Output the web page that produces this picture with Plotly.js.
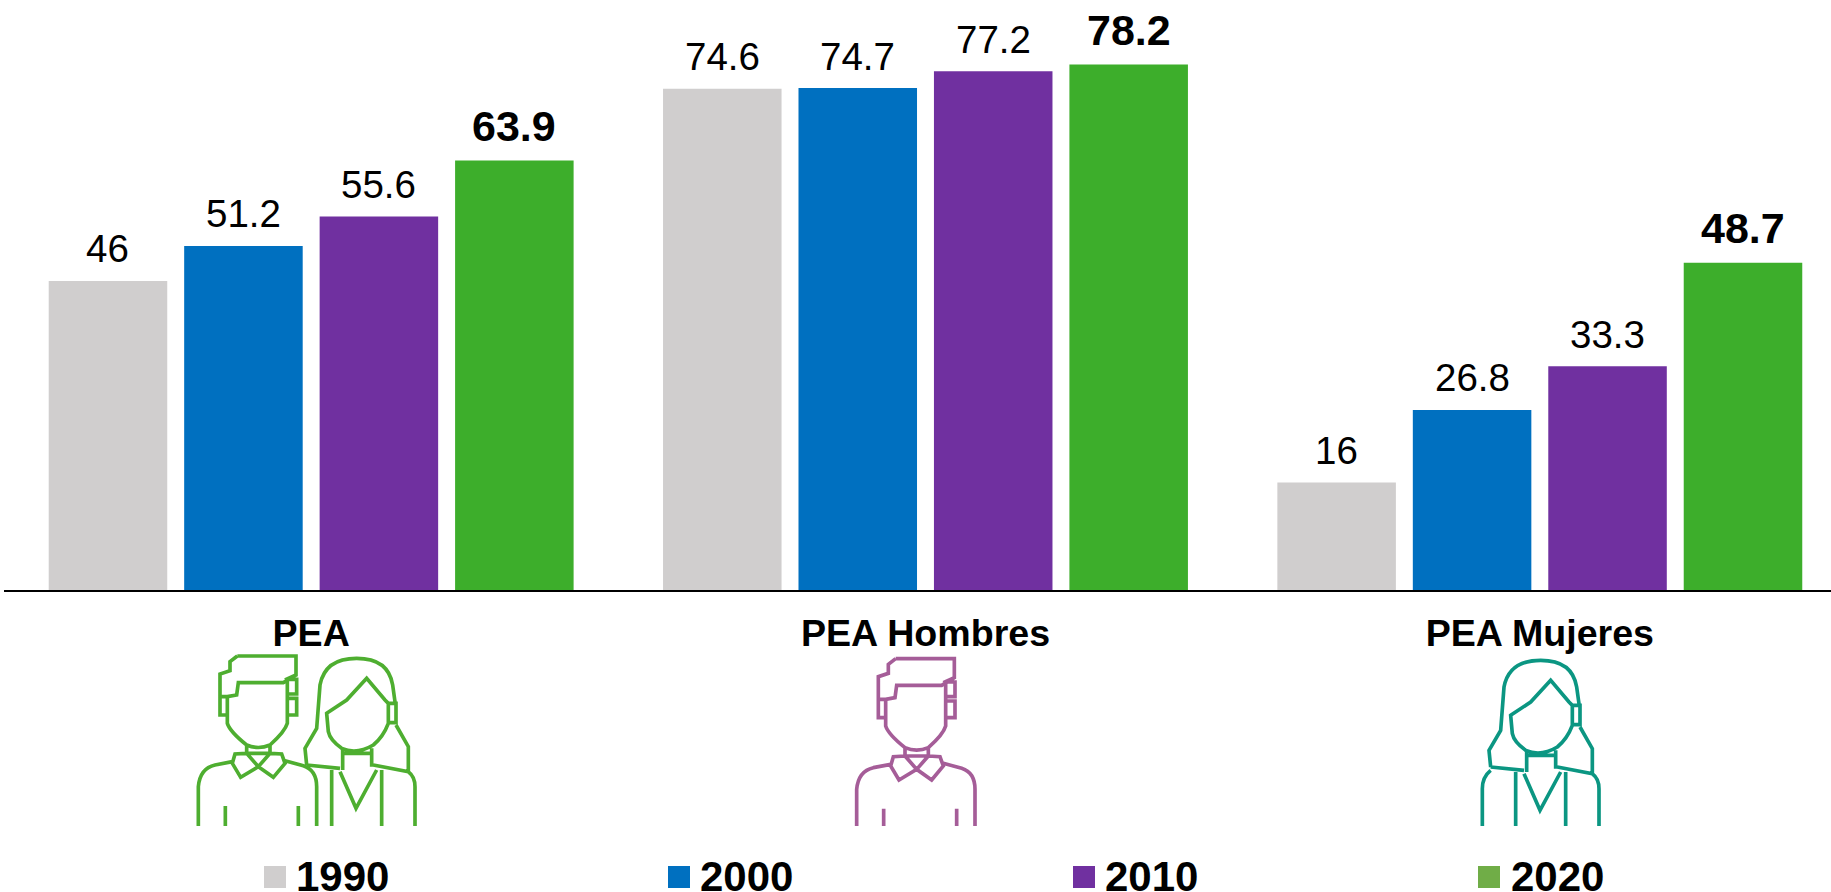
<!DOCTYPE html>
<html>
<head>
<meta charset="utf-8">
<script src="https://cdn.plot.ly/plotly-3.0.1.min.js"></script>
<style>html,body{margin:0;padding:0;background:#fff;overflow:hidden}#chart{width:1831px;height:892px}</style>
</head>
<body>
<div id="chart"></div>
<script>
const categories = ["PEA", "PEA Hombres", "PEA Mujeres"];
const years = ["1990", "2000", "2010", "2020"];
const values1990 = [46, 74.6, 16];
const values2000 = [51.2, 74.7, 26.8];
const values2010 = [55.6, 77.2, 33.3];
const values2020 = [63.9, 78.2, 48.7];
const barColors = ["#D0CECE", "#0070C0", "#7030A0", "#3DAE2B"];
const legendColors = ["#D0CECE", "#0070C0", "#7030A0", "#70AD47"];
const FONT = "Liberation Sans, Arial, sans-serif";

const W = 1831, H = 892, ML = 4, PH = 590;
const BARGAP = 0.118;
const X_RANGE = [-0.5, 2.474];
const xp = px => (px - ML) / (W - ML);
const yp = py => (PH - py) / PH;

const series = [values1990, values2000, values2010, values2020];
const traces = series.map((vals, i) => ({
  type: "bar",
  name: years[i],
  x: categories,
  y: vals,
  marker: {color: barColors[i]},
  showlegend: false
}));

// value labels: anchored on each bar's category and value
const barPitch = (W - ML) / (X_RANGE[1] - X_RANGE[0]) * (1 - BARGAP) / series.length;
const valueLabels = series.flatMap((vals, i) => vals.map((v, c) => ({
  text: i === 3 ? "<b>" + v + "</b>" : String(v),
  xref: "x", yref: "y", x: categories[c], y: v,
  xshift: (i - (series.length - 1) / 2) * barPitch,
  yshift: i === 3 ? 35 : 32,
  xanchor: "center", yanchor: "middle", showarrow: false, borderpad: 0,
  font: {family: FONT, size: i === 3 ? 43 : 38.5, color: "#000"}
})));

// pictograms, in the coordinates of a 900x678 box shown at 300x226 px
function manPath(dx, dy) {
  const pts = [
    "M262 168H438V225L405 240", "M262 168L240 185V212L210 222V290H232L260 285L265 248H400L438 225",
    "M210 290V345H232", "M412 238H440V282H412", "M412 295H440V345H412",
    "M232 290V370Q240 395 290 435Q325 450 360 435Q405 395 412 370V238",
    "M290 435V460H360V435",
    "M290 460L255 462L247 490L272 532L325 500Z", "M360 460L395 462L405 490L370 532L325 500Z",
    "M247 485L195 495Q150 505 145 560V700", "M405 482L460 497Q500 510 500 560V700",
    "M226 618V700", "M445 618V700"
  ];
  return `<g transform="translate(${dx} ${dy})"><path d="${pts.join(" ")}"/></g>`;
}
function womanPath(dx, dy, withLeftArm) {
  const pts = [
    "M470 495L465 445L500 385L510 255Q525 175 620 175Q715 175 728 255L735 305",
    "M715 310H738V368H715", "M738 375L775 440V515",
    "M530 340L590 300L650 235L705 300L715 310V370Q700 410 670 435Q620 465 575 445Q540 420 535 395Z",
    "M578 450V510", "M665 445V500", "M578 460H665",
    "M570 515L618 625L680 510",
    "M470 495L570 505", "M670 495L775 515Q795 530 795 560V700",
    "M545 510V700", "M695 510V700"
  ];
  if (withLeftArm) pts.push("M470 505Q445 525 445 560V700");
  return `<g transform="translate(${dx} ${dy})"><path d="${pts.join(" ")}"/></g>`;
}
function iconUri(color, body) {
  const svg = `<svg xmlns="http://www.w3.org/2000/svg" width="900" height="678" viewBox="0 0 900 678"><g fill="none" stroke="${color}" stroke-width="11" stroke-linejoin="miter">${body}</g></svg>`;
  return "data:image/svg+xml;base64," + btoa(svg);
}
const icons = [
  {uri: iconUri("#4EAE30", manPath(0, 0) + womanPath(0, 0, false)), left: 150},
  {uri: iconUri("#A55D98", manPath(85, 8)), left: 780},
  {uri: iconUri("#0B9682", womanPath(-198, 6, true)), left: 1400}
];
const images = icons.map(ic => ({
  source: ic.uri, xref: "paper", yref: "paper",
  x: xp(ic.left), y: yp(600),
  sizex: 300 / (W - ML), sizey: 226 / PH,
  xanchor: "left", yanchor: "top", sizing: "stretch", layer: "above"
}));

// legend row
const swatchLeft = [264, 668, 1073, 1478];
const textLeft = [295, 699, 1104, 1510];
const shapes = years.map((y, i) => ({
  type: "rect", xref: "paper", yref: "paper",
  x0: xp(swatchLeft[i]), x1: xp(swatchLeft[i] + 22),
  y0: yp(888), y1: yp(866),
  line: {width: 0}, fillcolor: legendColors[i]
}));
const legendLabels = years.map((y, i) => ({
  text: "<b>" + y + "</b>", xref: "paper", yref: "paper",
  x: xp(textLeft[i]), y: yp(876), xanchor: "left", yanchor: "middle",
  showarrow: false, borderpad: 0, font: {family: FONT, size: 42, color: "#000"}
}));

const layout = {
  width: W, height: H,
  margin: {l: ML, r: 0, t: 0, b: H - PH, pad: 0},
  paper_bgcolor: "#fff", plot_bgcolor: "#fff",
  barmode: "group", bargap: BARGAP, bargroupgap: 0.125,
  font: {family: FONT, color: "#000"},
  xaxis: {
    type: "category", categoryorder: "array", categoryarray: categories,
    range: X_RANGE, fixedrange: true,
    showline: true, linecolor: "#000", linewidth: 2,
    showgrid: false, zeroline: false, ticks: "",
    ticklabelstandoff: 9,
    tickvals: categories, ticktext: categories.map(c => "<b>" + c + "</b>"),
    tickfont: {family: FONT, size: 37.6, color: "#000"}
  },
  yaxis: {range: [0, 87.8], visible: false, fixedrange: true},
  showlegend: false,
  images, shapes, annotations: valueLabels.concat(legendLabels)
};
Plotly.newPlot("chart", traces, layout, {displayModeBar: false, responsive: false});
</script>
</body>
</html>
